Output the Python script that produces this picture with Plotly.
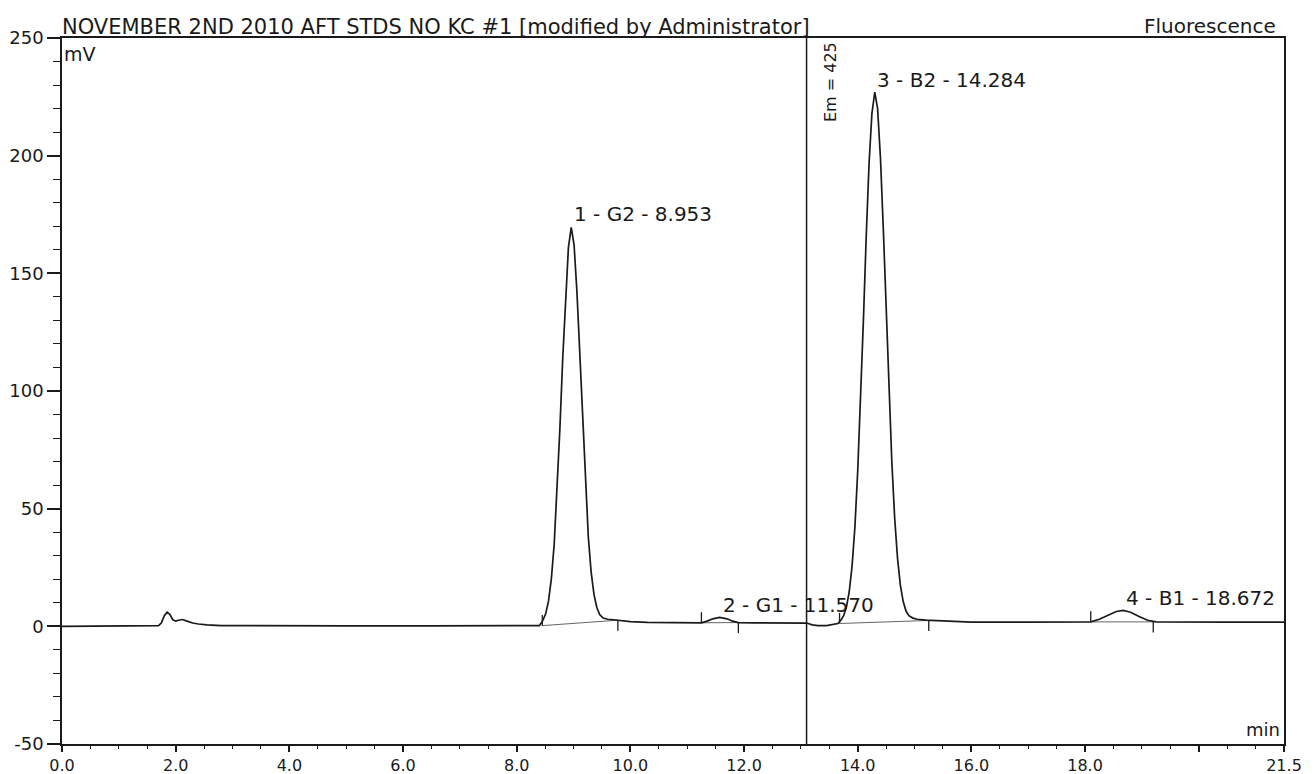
import plotly.graph_objects as go

# ---------------- data ----------------
time_min = [0.0, 0.3, 1.0, 1.5, 1.70, 1.75, 1.80, 1.85, 1.90, 1.95, 2.00, 2.05, 2.12, 2.20, 2.30,
            2.40, 2.55, 2.8, 3.5, 5.0, 6.5, 8.0, 8.40,
            8.46, 8.51, 8.56, 8.61, 8.66, 8.71, 8.76, 8.81, 8.86, 8.91, 8.96, 9.01, 9.06, 9.11,
            9.16, 9.21, 9.26, 9.31, 9.36, 9.41, 9.46, 9.52, 9.60, 9.70, 9.85, 10.0, 10.3, 10.8,
            11.2, 11.25, 11.35, 11.45, 11.57, 11.70, 11.80, 11.90, 12.2, 12.8, 13.1, 13.2, 13.3,
            13.45, 13.55, 13.65,
            13.70, 13.75, 13.80, 13.85, 13.90, 13.95, 14.00, 14.05, 14.10, 14.15, 14.20, 14.25,
            14.30, 14.35, 14.40, 14.45, 14.50, 14.55, 14.60, 14.65, 14.70, 14.75, 14.80, 14.85,
            14.90, 14.97, 15.05, 15.2, 15.5, 16.0, 17.0, 18.0,
            18.10, 18.25, 18.40, 18.55, 18.67, 18.80, 18.95, 19.10, 19.25, 19.6, 20.5, 21.5]
signal_mv = [0.0, 0.0, 0.0, 0.1, 0.3, 1.5, 4.5, 6.0, 5.0, 2.8, 2.2, 2.6, 2.9, 2.2, 1.4,
             1.0, 0.6, 0.3, 0.2, 0.2, 0.2, 0.3, 0.3,
             2.5, 5.3, 10.8, 20.3, 35, 57, 84, 114, 141, 161, 169.5, 162, 142, 116,
             87, 60, 38, 23, 13.5, 8, 5, 3.5, 3.0, 2.8, 2.4, 2.0, 1.7, 1.5,
             1.5, 1.5, 2.2, 3.2, 3.8, 3.2, 2.2, 1.6, 1.5, 1.5, 1.4, 0.6, 0.3,
             0.3, 0.6, 1.2,
             2.5, 4.4, 8, 14.6, 25.5, 42, 66, 96, 130, 166, 197, 218,
             227, 220, 199, 169, 134, 100, 70, 46, 29, 17.5, 10.5, 6.5,
             4.5, 3.5, 3.0, 2.6, 2.2, 1.8, 1.8, 1.8,
             1.9, 3.0, 4.8, 6.3, 6.8, 6.0, 4.2, 2.6, 1.9, 1.8, 1.8, 1.8]

peak_numbers = [1, 2, 3, 4]
peak_names = ["G2", "G1", "B2", "B1"]
peak_rt = [8.953, 11.570, 14.284, 18.672]
peak_height = [170, 4, 227, 7]

# integration start / end points (time, mV)
int_start_t = [8.45, 11.25, 13.68, 18.10]
int_start_y = [0.3, 1.5, 1.2, 1.9]
int_end_t = [9.78, 11.90, 15.25, 19.20]
int_end_y = [2.6, 1.6, 2.5, 1.9]

em_switch_time = 13.1
em_label = "Em = 425"

title_text = "NOVEMBER 2ND 2010 AFT STDS NO KC #1 [modified by Administrator]"
detector_text = "Fluorescence"

x_tickvals = [0, 2, 4, 6, 8, 10, 12, 14, 16, 18, 20, 21.5]
x_ticktext = ["0.0", "2.0", "4.0", "6.0", "8.0", "10.0", "12.0", "14.0", "16.0", "18.0", "", "21.5"]
y_tickvals = [-50, 0, 50, 100, 150, 200, 250]
y_ticktext = ["-50", "0", "50", "100", "150", "200", "250"]

# ---------------- figure ----------------
FONT = "DejaVu Sans, Liberation Sans, Arial, sans-serif"
INK = "#1a1a1a"

fig = go.Figure()

# integration baselines
bx, by = [], []
for ts, ys, te, ye in zip(int_start_t, int_start_y, int_end_t, int_end_y):
    bx += [ts, te, None]
    by += [ys, ye, None]
fig.add_trace(go.Scatter(x=bx, y=by, mode="lines", line=dict(color="#666666", width=1),
                         hoverinfo="skip", showlegend=False))

# start / end markers (short vertical ticks)
mx, my = [], []
TICK = 4.5
for ts, ys in zip(int_start_t, int_start_y):
    mx += [ts, ts, None]
    my += [ys, ys + TICK, None]
for te, ye in zip(int_end_t, int_end_y):
    mx += [te, te, None]
    my += [ye, ye - TICK, None]
fig.add_trace(go.Scatter(x=mx, y=my, mode="lines", line=dict(color=INK, width=1.3),
                         hoverinfo="skip", showlegend=False))

# chromatogram
fig.add_trace(go.Scatter(x=time_min, y=signal_mv, mode="lines",
                         line=dict(color=INK, width=1.7), showlegend=False))

# switch line
fig.add_vline(x=em_switch_time, line=dict(color=INK, width=1.5))

annotations = []
for n, nm, rt, h in zip(peak_numbers, peak_names, peak_rt, peak_height):
    annotations.append(dict(x=rt, y=h, xref="x", yref="y", text=f"{n} - {nm} - {rt:.3f}",
                            showarrow=False, xanchor="left", yanchor="bottom",
                            xshift=1, yshift=-2, font=dict(family=FONT, size=20, color=INK)))
annotations.append(dict(x=em_switch_time, y=250, xref="x", yref="y", text=em_label,
                        textangle=-90, showarrow=False, xanchor="left", yanchor="top",
                        xshift=12, yshift=-2, font=dict(family=FONT, size=16, color=INK)))
annotations.append(dict(x=0, y=1, xref="paper", yref="paper", text=title_text,
                        showarrow=False, xanchor="left", yanchor="bottom", xshift=-2, yshift=-3,
                        font=dict(family=FONT, size=21, color=INK)))
annotations.append(dict(x=1, y=1, xref="paper", yref="paper", text=detector_text,
                        showarrow=False, xanchor="right", yanchor="bottom", xshift=-6, yshift=-2,
                        font=dict(family=FONT, size=20, color=INK)))
annotations.append(dict(x=0, y=1, xref="paper", yref="paper", text="mV",
                        showarrow=False, xanchor="left", yanchor="top", xshift=0, yshift=-3,
                        font=dict(family=FONT, size=19, color=INK)))
annotations.append(dict(x=1, y=0, xref="paper", yref="paper", text="min",
                        showarrow=False, xanchor="right", yanchor="bottom", xshift=-2, yshift=2,
                        font=dict(family=FONT, size=18, color=INK)))

# the page body adds an 8 px offset; the figure is sized so the plot area lands where the reference has it
fig.update_layout(
    width=1308, height=766,
    margin=dict(l=54, r=32, t=30, b=30),
    paper_bgcolor="white", plot_bgcolor="white",
    annotations=annotations,
    showlegend=False,
    font=dict(family=FONT, color=INK),
)
fig.update_xaxes(range=[0, 21.5], showgrid=False, zeroline=False, automargin=False,
                 showline=True, linecolor=INK, linewidth=1.5, mirror=True,
                 ticks="outside", ticklen=6, tickwidth=1.5, tickcolor=INK,
                 tickvals=x_tickvals, ticktext=x_ticktext,
                 tickfont=dict(family=FONT, size=16, color=INK),
                 minor=dict(dtick=0.5, ticks="outside", ticklen=3, tickwidth=1.2, tickcolor=INK,
                            showgrid=False))
fig.update_yaxes(range=[-50, 250], showgrid=False, zeroline=False, automargin=False,
                 showline=True, linecolor=INK, linewidth=1.5, mirror=True,
                 ticks="outside", ticklen=13, tickwidth=1.5, tickcolor=INK,
                 tickvals=y_tickvals, ticktext=y_ticktext,
                 tickfont=dict(family=FONT, size=18, color=INK),
                 minor=dict(dtick=10, ticks="outside", ticklen=7, tickwidth=1.2, tickcolor=INK,
                            showgrid=False))

fig.write_html("out.html")
